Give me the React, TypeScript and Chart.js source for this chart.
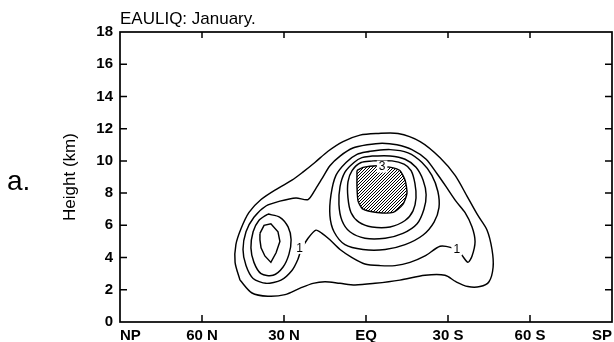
import { useEffect, useRef } from 'react';
import { Chart, registerables } from 'chart.js';

Chart.register(...registerables);

type Pt = [number, number]; // [latitude (deg, north positive), height (km)]

const FONT = '"Liberation Sans", Arial, Helvetica, sans-serif';

const titleText = 'EAULIQ: January.';
const yAxisTitle = 'Height (km)';
const panelLetter = 'a.';

const latTicks = [-90, -60, -30, 0, 30, 60, 90];
const latTickLabels: Record<number, string> = {
  90: 'NP', 60: '60 N', 30: '30 N', 0: 'EQ', [-30]: '30 S', [-60]: '60 S', [-90]: 'SP',
};
const heightTicks = [0, 2, 4, 6, 8, 10, 12, 14, 16, 18];

// Contour 0.5 (outermost)
const contour05: Pt[] = [
  [46.1, 2.6], [47.9, 3.7], [47.6, 4.8], [45.7, 5.8], [42.8, 6.8], [38.4, 7.6], [32.2, 8.3],
  [27.1, 8.8], [23.1, 9.3], [18.7, 9.9], [13.9, 10.6], [8.4, 11.2], [2.2, 11.6], [-4.0, 11.7],
  [-11.7, 11.7], [-19.8, 11.2], [-27.1, 10.2], [-32.6, 9.1], [-37.0, 7.8], [-41.0, 6.6],
  [-44.3, 5.7], [-46.1, 4.5], [-46.5, 3.4], [-45.0, 2.5], [-41.7, 2.2], [-37.3, 2.2],
  [-32.9, 2.5], [-28.9, 2.9], [-21.6, 2.9], [-12.4, 2.6], [-3.3, 2.4], [4.0, 2.3], [9.5, 2.4],
  [15.0, 2.5], [19.4, 2.4], [24.1, 2.1], [29.6, 1.7], [35.9, 1.6], [41.7, 1.8], [46.1, 2.6],
];

// Contour 1 (labelled), wraps both maxima
const contour10: Pt[] = [
  [23.8, 4.5], [21.2, 5.2], [18.3, 5.7], [16.1, 5.5], [13.2, 5.1], [9.5, 4.5], [5.1, 4.0],
  [0.4, 3.6], [-5.1, 3.5], [-10.6, 3.5], [-16.1, 3.7], [-21.6, 4.1], [-27.1, 4.7], [-31.5, 4.6],
  [-34.8, 4.2], [-37.3, 3.7], [-38.8, 4.1], [-39.9, 5.0], [-38.8, 5.9], [-36.2, 6.8],
  [-32.9, 7.5], [-29.3, 8.4], [-26.0, 9.2], [-22.0, 10.1], [-16.8, 10.7], [-11.3, 11.0],
  [-5.9, 11.1], [-0.4, 11.0], [4.8, 10.8], [9.5, 10.3], [13.2, 9.7], [16.1, 8.9], [18.3, 8.3],
  [21.2, 7.6], [25.6, 7.7], [31.5, 7.5], [36.6, 7.2], [41.0, 6.5], [43.9, 5.6], [45.0, 4.5],
  [43.9, 3.5], [41.3, 2.7], [36.6, 2.4], [31.1, 2.6], [27.1, 3.2], [24.9, 3.9], [23.8, 4.5],
];

// Secondary maximum near 35 N
const contour15North: Pt[] = [
  [35.9, 6.7], [31.5, 6.5], [28.5, 5.9], [27.4, 5.1], [28.2, 4.2], [30.4, 3.4], [34.0, 2.9],
  [38.4, 3.0], [41.0, 3.7], [42.1, 4.6], [41.3, 5.6], [39.2, 6.3], [35.9, 6.7],
];
const contour20North: Pt[] = [
  [38.8, 5.5], [37.3, 6.0], [34.8, 6.1], [32.2, 5.6], [31.5, 5.0], [32.9, 4.3], [34.8, 3.7],
  [37.0, 4.1], [38.4, 4.6], [38.8, 5.1], [38.8, 5.5],
];

// Main maximum over the equator
const contour15: Pt[] = [
  [-1.5, 10.6], [-8.8, 10.7], [-15.4, 10.5], [-20.5, 9.9], [-24.1, 9.1], [-26.3, 8.1],
  [-26.7, 7.1], [-24.9, 6.2], [-20.9, 5.4], [-14.3, 4.8], [-7.0, 4.5], [1.1, 4.5], [7.7, 4.8],
  [11.7, 5.6], [13.2, 6.6], [12.8, 7.9], [11.0, 9.1], [7.3, 9.9], [3.3, 10.4], [-1.5, 10.6],
];
const contour20: Pt[] = [
  [-2.2, 10.3], [-8.8, 10.3], [-14.3, 10.1], [-18.3, 9.6], [-20.9, 8.8], [-22.0, 7.9],
  [-21.2, 7.0], [-18.7, 6.1], [-13.5, 5.5], [-7.0, 5.2], [0.4, 5.2], [5.9, 5.6], [8.8, 6.3],
  [9.9, 7.3], [9.5, 8.4], [7.7, 9.3], [4.4, 9.9], [1.5, 10.2], [-2.2, 10.3],
];
const contour25: Pt[] = [
  [-2.6, 10.0], [-9.5, 10.0], [-13.9, 9.8], [-16.5, 9.4], [-17.9, 8.6], [-18.3, 7.7],
  [-17.2, 6.9], [-14.3, 6.3], [-8.8, 5.9], [-2.2, 5.9], [2.6, 6.2], [5.5, 6.8], [6.6, 7.7],
  [6.6, 8.7], [5.1, 9.4], [1.8, 9.9], [-2.6, 10.0],
];
// Region above 3 (hatched)
const contour30: Pt[] = [
  [3.3, 9.4], [1.1, 9.6], [-4.0, 9.7], [-9.1, 9.6], [-12.4, 9.4], [-14.3, 8.8], [-15.0, 8.0],
  [-13.5, 7.3], [-9.9, 6.8], [-4.0, 6.8], [1.1, 7.0], [2.9, 7.5], [3.3, 8.4], [3.3, 9.4],
];

const labelTexts = ['1', '1', '3'];
const labelLats = [24.3, -33.2, -5.9];
const labelHeights = [4.6, 4.5, 9.65];

const lineContours: { pts: Pt[]; tension: number }[] = [
  { pts: contour05, tension: 0.3 },
  { pts: contour10, tension: 0.25 },
  { pts: contour15North, tension: 0.3 },
  { pts: contour20North, tension: 0 },
  { pts: contour15, tension: 0.3 },
  { pts: contour20, tension: 0.3 },
  { pts: contour25, tension: 0.3 },
];

function makeHatch(): CanvasPattern | string {
  const c = document.createElement('canvas');
  c.width = 3;
  c.height = 3;
  const g = c.getContext('2d');
  if (!g) return '#555';
  g.strokeStyle = '#000';
  g.lineWidth = 1;
  g.beginPath();
  g.moveTo(-1, 4); g.lineTo(4, -1);
  g.moveTo(-1, 1); g.lineTo(1, -1);
  g.moveTo(2, 4); g.lineTo(4, 2);
  g.stroke();
  return g.createPattern(c, 'repeat') ?? '#555';
}

const toXY = (pts: Pt[]) => pts.map(([x, y]) => ({ x, y }));

const decorPlugin = {
  id: 'decor',
  afterDraw(chart: any) {
    const { ctx, chartArea: a, scales } = chart;
    const xs = scales.x;
    const ys = scales.y;
    ctx.save();

    // contour value labels on white boxes
    ctx.font = `12px ${FONT}`;
    ctx.textAlign = 'center';
    ctx.textBaseline = 'middle';
    labelTexts.forEach((t, i) => {
      const px = xs.getPixelForValue(labelLats[i]);
      const py = ys.getPixelForValue(labelHeights[i]);
      const w = ctx.measureText(t).width + 4;
      ctx.fillStyle = '#fff';
      ctx.fillRect(px - w / 2, py - 6, w, 12);
      ctx.fillStyle = '#000';
      ctx.fillText(t, px, py + 0.5);
    });

    // frame
    ctx.strokeStyle = '#000';
    ctx.lineWidth = 1.7;
    ctx.strokeRect(a.left, a.top, a.right - a.left, a.bottom - a.top);

    // inward tick marks on all four sides
    ctx.lineWidth = 1.5;
    ctx.beginPath();
    heightTicks.slice(1, -1).forEach((v) => {
      const py = ys.getPixelForValue(v);
      ctx.moveTo(a.left, py); ctx.lineTo(a.left + 7, py);
      ctx.moveTo(a.right, py); ctx.lineTo(a.right - 7, py);
    });
    latTicks.slice(1, -1).forEach((v) => {
      const px = xs.getPixelForValue(v);
      ctx.moveTo(px, a.bottom); ctx.lineTo(px, a.bottom - 7);
      ctx.moveTo(px, a.top); ctx.lineTo(px, a.top + 6);
    });
    ctx.stroke();

    // title
    ctx.fillStyle = '#000';
    ctx.font = `17px ${FONT}`;
    ctx.textAlign = 'left';
    ctx.textBaseline = 'alphabetic';
    ctx.fillText(titleText, a.left, 24);

    // y-axis title
    ctx.save();
    ctx.translate(70, (a.top + a.bottom) / 2);
    ctx.rotate(-Math.PI / 2);
    ctx.textAlign = 'center';
    ctx.textBaseline = 'middle';
    ctx.font = `17px ${FONT}`;
    ctx.fillText(yAxisTitle, 0, 0);
    ctx.restore();

    // panel letter
    ctx.font = `28px ${FONT}`;
    ctx.textAlign = 'left';
    ctx.textBaseline = 'alphabetic';
    ctx.fillText(panelLetter, 7, 190);

    ctx.restore();
  },
};

export default function App() {
  const ref = useRef<HTMLCanvasElement | null>(null);

  useEffect(() => {
    if (!ref.current) return;
    const hatch = makeHatch();
    const datasets: any[] = [
      {
        data: toXY(contour30),
        showLine: true,
        borderColor: '#000',
        borderWidth: 1.4,
        backgroundColor: hatch,
        fill: 'shape',
        pointRadius: 0,
        tension: 0.2,
      },
      ...lineContours.map((c) => ({
        data: toXY(c.pts),
        showLine: true,
        borderColor: '#000',
        borderWidth: 1.45,
        pointRadius: 0,
        fill: false,
        tension: c.tension,
      })),
    ];

    const tickFont = { family: FONT, size: 15, weight: 'bold' as const };

    const chart = new Chart(ref.current, {
      type: 'scatter',
      data: { datasets },
      plugins: [decorPlugin],
      options: {
        responsive: false,
        animation: false,
        devicePixelRatio: 1,
        layout: { padding: { left: 0, right: 2, top: 32, bottom: 0 } },
        plugins: {
          legend: { display: false },
          tooltip: { enabled: false },
          title: { display: false },
        },
        scales: {
          x: {
            type: 'linear',
            min: -90,
            max: 90,
            reverse: true,
            afterBuildTicks: (s: any) => {
              s.ticks = latTicks.map((v) => ({ value: v }));
            },
            afterFit: (s: any) => {
              s.height = 20;
            },
            ticks: {
              autoSkip: false,
              maxRotation: 0,
              minRotation: 0,
              align: 'inner',
              padding: 5,
              color: '#000',
              font: tickFont,
              callback: (v: any) => latTickLabels[Number(v)] ?? '',
            },
            grid: { display: false, drawTicks: false },
            border: { display: false },
          },
          y: {
            type: 'linear',
            min: 0,
            max: 18,
            afterBuildTicks: (s: any) => {
              s.ticks = heightTicks.map((v) => ({ value: v }));
            },
            afterFit: (s: any) => {
              s.width = 120;
            },
            ticks: {
              autoSkip: false,
              padding: 7,
              color: '#000',
              font: tickFont,
            },
            grid: { display: false, drawTicks: false },
            border: { display: false },
          },
        },
      } as any,
    });
    return () => chart.destroy();
  }, []);

  return (
    <div style={{ position: 'absolute', left: 0, top: 0, width: 614, height: 342, background: '#fff' }}>
      <canvas ref={ref} width={614} height={342} style={{ display: 'block' }} />
    </div>
  );
}
